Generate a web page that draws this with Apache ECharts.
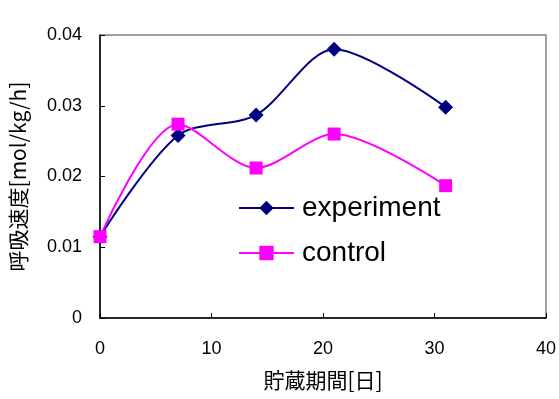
<!DOCTYPE html>
<html><head><meta charset="utf-8">
<script src="https://cdn.jsdelivr.net/npm/echarts@6/dist/echarts.min.js"></script>
<style>html,body{margin:0;padding:0;background:#fff}#c{width:559px;height:399px}</style>
</head><body><div id="c"></div>
<script>
const days = [0, 7, 14, 21, 31];
const experiment = [0.0115, 0.0258, 0.0287, 0.0380, 0.0298];
const control = [0.0115, 0.0274, 0.0212, 0.0260, 0.0187];
const xTicks = [0, 10, 20, 30, 40];
const yTicks = [0, 0.01, 0.02, 0.03, 0.04];

const font = "'Liberation Sans', Arial, 'Noto Sans CJK JP', sans-serif";
const cjk = "'Noto Sans CJK JP', sans-serif";
const chart = echarts.init(document.getElementById('c'));
chart.setOption({
  animation: false,
  backgroundColor: '#fff',
  grid: { left: 100, top: 35, right: 12, bottom: 81, show: true, borderColor: '#808080', borderWidth: 1.5 },
  legend: {
    orient: 'vertical', left: 233, top: 189, itemWidth: 55, itemHeight: 18, itemGap: 17,
    textStyle: { fontFamily: font, fontSize: 28, color: '#000', padding: [0, 0, 0, 3], lineHeight: 28 },
    data: ['experiment', 'control']
  },
  xAxis: {
    type: 'value', min: xTicks[0], max: xTicks[xTicks.length - 1], interval: 10,
    name: '貯蔵期間[日]', nameLocation: 'middle', nameGap: 52,
    nameTextStyle: { fontFamily: cjk, fontSize: 21, color: '#000' },
    axisLine: { lineStyle: { color: '#000', width: 1.5 } },
    axisTick: { inside: true, length: 5, lineStyle: { color: '#000' } },
    axisLabel: { fontFamily: font, fontSize: 18, color: '#000', margin: 22 },
    splitLine: { show: false }
  },
  yAxis: {
    type: 'value', min: yTicks[0], max: yTicks[yTicks.length - 1], interval: 0.01,
    name: '呼吸速度[mol/kg/h]', nameLocation: 'middle', nameGap: 71, nameRotate: 90,
    nameTextStyle: { fontFamily: cjk, fontSize: 21, color: '#000' },
    axisLine: { lineStyle: { color: '#000', width: 1.5 } },
    axisTick: { inside: true, length: 5, lineStyle: { color: '#000' } },
    axisLabel: { fontFamily: font, fontSize: 18, color: '#000', margin: 18,
      formatter: v => v === 0 ? '0' : v.toFixed(2) },
    splitLine: { show: false }
  },
  series: [
    { name: 'experiment', type: 'line', smooth: 0.3, data: days.map((d, i) => [d, experiment[i]]),
      symbol: 'diamond', symbolSize: 15, color: '#000080', lineStyle: { width: 2, color: '#000080' },
      itemStyle: { color: '#000080' } },
    { name: 'control', type: 'line', smooth: 0.3, data: days.map((d, i) => [d, control[i]]),
      symbol: 'rect', symbolSize: 13, color: '#ff00ff', lineStyle: { width: 2, color: '#ff00ff' },
      itemStyle: { color: '#ff00ff' } }
  ]
});
</script></body></html>
